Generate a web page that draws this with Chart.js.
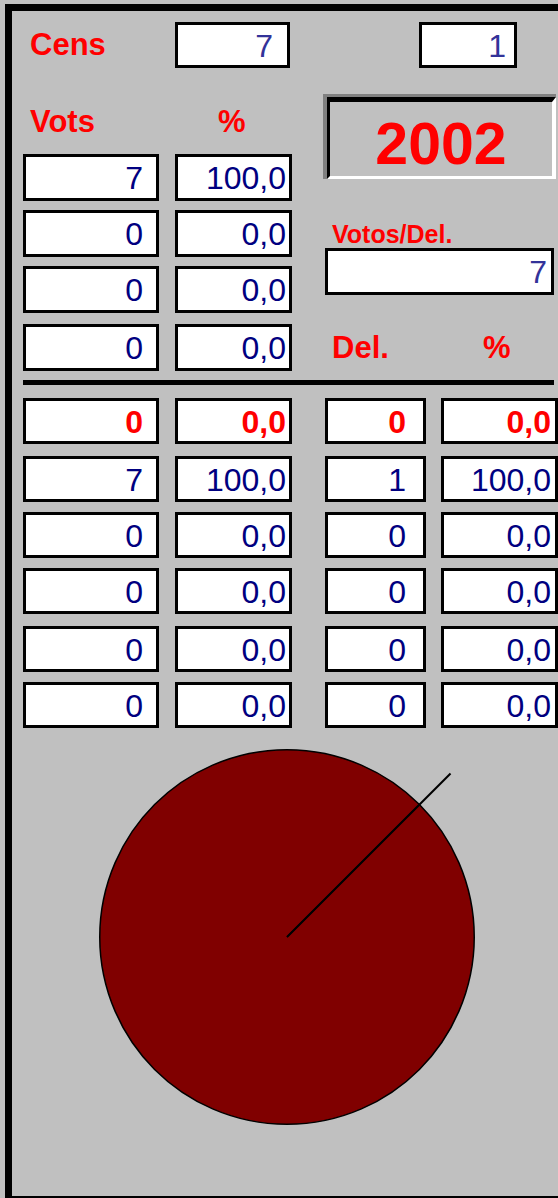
<!DOCTYPE html>
<html>
<head>
<meta charset="utf-8">
<script src="https://cdn.jsdelivr.net/npm/chart.js@4.4.0/dist/chart.umd.min.js"></script>
<style>
  html, body { margin: 0; padding: 0; }
  body { width: 558px; height: 1198px; background: #c0c0c0; position: relative; overflow: hidden;
         font-family: "Liberation Sans", Arial, sans-serif; }
  .bar { position: absolute; background: #000; }
  .lbl { position: absolute; color: #ff0000; font-weight: bold; line-height: 1; white-space: nowrap; }
  .box { position: absolute; box-sizing: border-box; background: #fff; border: 3px solid #000; overflow: hidden; }
  .box span { position: absolute; line-height: 1; font-size: 32px; white-space: nowrap; color: #000080; }
  #year { position: absolute; left: 323px; top: 94px; width: 233px; height: 85px; box-sizing: border-box;
          border-top: 3px solid #808080; border-left: 4px solid #808080; }
  #yearIn { position: absolute; left: 0; top: 0; right: 0; bottom: 0; box-sizing: border-box;
            border-top: 5px solid #000; border-left: 3px solid #000;
            border-bottom: 3px solid #fff; border-right: 4px solid #fff; }
  #yearIn span { position: absolute; left: 0; right: 0; text-align: center; top: 13px; line-height: 1;
                 font-size: 59px; font-weight: bold; color: #ff0000; }
  #pieWrap { position: absolute; left: 99px; top: 749px; width: 376px; height: 376px; }
</style>
</head>
<body>
<div class="bar" style="left:5px;top:4px;width:553px;height:7px"></div>
<div class="bar" style="left:5px;top:4px;width:7px;height:1194px"></div>
<div class="bar" style="left:5px;top:1196px;width:553px;height:2px"></div>
<div class="bar" style="left:23px;top:380px;width:531px;height:5px"></div>

<div id="year"><div id="yearIn"><span id="yearTxt"></span></div></div>
<div id="pieWrap"><canvas id="pie"></canvas></div>

<script>
// data read from the sheet
const censo = 7;
const escanos = 1;
const year = "2002";
const votosPorDel = 7;
const votos = [7, 0, 0, 0];
const votosPct = [100.0, 0.0, 0.0, 0.0];
const partVotos = [0, 7, 0, 0, 0, 0];
const partPct = [0.0, 100.0, 0.0, 0.0, 0.0, 0.0];
const partDel = [0, 1, 0, 0, 0, 0];
const partDelPct = [0.0, 100.0, 0.0, 0.0, 0.0, 0.0];
const sliceColors = ["#ff0000", "#800000", "#000080", "#008000", "#808000", "#800080"];

const fmt = v => v.toFixed(1).replace(".", ",");

function label(text, x, baseline, size) {
  const d = document.createElement("div");
  d.className = "lbl";
  d.textContent = text;
  d.style.fontSize = size + "px";
  d.style.left = x + "px";
  d.style.top = (baseline - 0.8465 * size) + "px";
  document.body.appendChild(d);
}

function box(x, y, w, h, text, padRight, opts) {
  opts = opts || {};
  const b = document.createElement("div");
  b.className = "box";
  b.style.left = x + "px"; b.style.top = y + "px";
  b.style.width = w + "px"; b.style.height = h + "px";
  const s = document.createElement("span");
  s.textContent = text;
  s.style.right = (padRight - 3) + "px";
  s.style.top = (35 - 3 - 0.8465 * 32) + "px";
  if (opts.color) s.style.color = opts.color;
  if (opts.bold) s.style.fontWeight = "bold";
  b.appendChild(s);
  document.body.appendChild(b);
}

// labels
label("Cens", 30, 55, 31);
label("Vots", 30, 132, 31);
label("%", 218, 132, 31);
label("Votos/Del.", 332, 243, 25);
label("Del.", 332, 358, 31);
label("%", 483, 358, 31);

// top boxes
box(175, 22, 115, 46, String(censo), 17, { color: "#333399" });
box(419, 22, 98, 46, String(escanos), 11, { color: "#333399" });
box(325, 248, 229, 47, String(votosPorDel), 7, { color: "#333399" });
document.getElementById("yearTxt").textContent = year;

const topRows = [154, 210, 266, 324];
votos.forEach((v, i) => {
  box(23, topRows[i], 136, 47, String(v), 16);
  box(175, topRows[i], 117, 47, fmt(votosPct[i]), 6);
});

const lowRows = [398, 456, 512, 568, 626, 682];
partVotos.forEach((v, i) => {
  const o = i === 0 ? { color: "#ff0000", bold: true } : {};
  box(23, lowRows[i], 136, 46, String(v), 16, o);
  box(175, lowRows[i], 117, 46, fmt(partPct[i]), 6, o);
  box(325, lowRows[i], 101, 46, String(partDel[i]), 20, o);
  box(441, lowRows[i], 117, 46, fmt(partDelPct[i]), 7, o);
});

// radial edge line at the start of the slices, running past the rim
const edgeLine = {
  id: "edgeLine",
  afterDatasetsDraw(chart) {
    const arc = chart.getDatasetMeta(0).data.find(a => a.circumference > 0);
    if (!arc) return;
    const ctx = chart.ctx;
    const a = arc.startAngle;
    const len = arc.outerRadius * 1.235;
    ctx.save();
    ctx.strokeStyle = "#000";
    ctx.lineWidth = 2;
    ctx.beginPath();
    ctx.moveTo(arc.x, arc.y);
    ctx.lineTo(arc.x + Math.cos(a) * len, arc.y + Math.sin(a) * len);
    ctx.stroke();
    ctx.restore();
  }
};

new Chart(document.getElementById("pie"), {
  type: "pie",
  data: {
    labels: partDel.map((_, i) => "P" + (i + 1)),
    datasets: [{
      data: partVotos,
      backgroundColor: sliceColors,
      borderColor: "#000",
      borderWidth: 1.5,
      hoverOffset: 0
    }]
  },
  options: {
    responsive: true,
    maintainAspectRatio: false,
    animation: false,
    events: [],
    rotation: 45,
    layout: { padding: 0 },
    plugins: { legend: { display: false }, tooltip: { enabled: false } }
  },
  plugins: [edgeLine]
});
</script>
</body>
</html>
